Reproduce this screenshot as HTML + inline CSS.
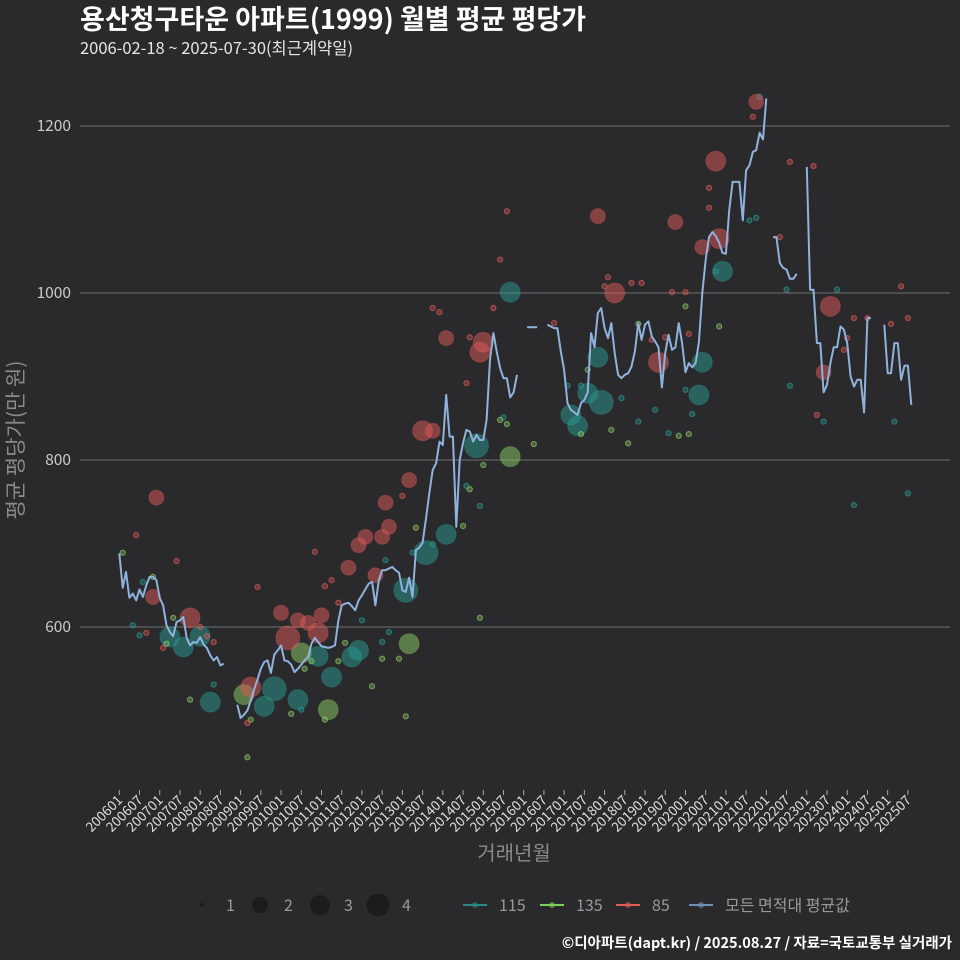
<!DOCTYPE html>
<html><head><meta charset="utf-8">
<style>
html,body{margin:0;padding:0;background:#2a2a2c;}
svg{display:block;font-family:"Noto Sans CJK KR","Liberation Sans",sans-serif;}
</style></head>
<body>
<svg id="chart" width="960" height="960" viewBox="0 0 960 960">
<rect width="960" height="960" fill="#2a2a2c"/>
<text x="80" y="29" fill="#ffffff" font-size="27" font-weight="bold">용산청구타운 아파트(1999) 월별 평균 평당가</text>
<text x="80" y="54" fill="#e6e6e6" font-size="16.5">2006-02-18 ~ 2025-07-30(최근계약일)</text>
<g id="grid"></g>
<g id="yaxis"></g>
<g id="xaxis"></g>
<g id="points"></g>
<g id="line"></g>
<text transform="translate(23,440) rotate(-90)" text-anchor="middle" fill="#8a8a8a" font-size="21">평균 평당가(만 원)</text>
<text x="514" y="860" text-anchor="middle" fill="#8a8a8a" font-size="20">거래년월</text>
<g id="legend"></g>
<text x="952" y="948" text-anchor="end" fill="#ffffff" font-size="14.5" font-weight="bold">©디아파트(dapt.kr) / 2025.08.27 / 자료=국토교통부 실거래가</text>
</svg>
<script>
const yTicks = [600, 800, 1000, 1200];
const segStarts = [0, 35, 121, 127, 194, 204, 227];
const segValues = [
 [688,647,666,635,640,632,645,636,650,660,660,656,635,626,602,594,589,606,608,612,587,578,582,581,588,579,575,566,560,564,554,556],
 [507,491,495,500,512,525,537,550,558,560,545,567,572,578,560,559,555,546,550,555,560,564,580,587,582,577,576,575,576,578,608,626,628,629,625,620,632,638,645,652,654,626,656,668,668,670,672,668,665,644,642,659,636,692,695,701,730,760,788,796,822,818,878,828,828,720,800,820,836,834,822,830,824,824,848,920,952,930,910,898,898,875,881,902],
 [959,959,959,959],
 [962,960,958,958,930,908,868,860,857,854,868,872,881,952,935,976,982,958,946,964,928,902,898,902,904,912,930,964,944,962,966,948,942,935,887,928,950,932,935,964,940,905,916,911,916,941,1000,1040,1067,1073,1068,1060,1048,1047,1100,1133,1133,1133,1087,1147,1153,1169,1171,1192,1184,1233],
 [1067,1067,1036,1030,1028,1017,1017,1023],
 [1151,1004,1004,940,940,881,890,916,935,935,960,956,940,900,888,896,896,857,970,970],
 [962,904,904,940,940,896,913,913,866]
];
const redMonths = [11,5,17,10,21,8,13,28,26,24,41,39,38,48,50,53,56,59,60,65,58,61,63,68,76,71,73,78,80,79,86,84,90,93,93,95,97,104,108,107,103,111,113,115,129,145,144,147,152,155,164,168,160,158,162,169,142,165,177,178,173,175,175,189,188,199,206,196,211,209,207,232,234,229,216,215,218,222];
const redValues = [755,710,679,636,611,593,575,582,589,600,648,528,485,617,587,608,605,593,614,629,690,649,656,671,662,698,708,708,720,749,776,757,835,835,982,977,946,947,941,929,892,982,1040,1098,964,1019,1008,1000,1012,1012,1001,1001,917,944,947,951,1092,1085,1158,1065,1055,1126,1102,1229,1211,1157,1152,1067,984,905,854,1008,970,963,946,932,970,970];
const redCounts = [2,1,1,2,3,1,1,1,1,1,1,3,1,2,4,2,2,3,2,1,1,1,1,2,2,2,2,2,2,2,2,1,3,2,1,1,2,1,3,3,1,1,1,1,1,1,1,3,1,1,1,1,3,1,1,1,2,2,3,3,2,1,1,2,1,1,1,1,3,2,1,1,1,1,1,1,1,1];
const tealMonths = [15,19,24,27,4,6,7,28,46,43,53,54,59,63,69,71,72,80,78,79,85,87,91,97,93,107,103,106,116,114,133,137,134,136,139,143,142,149,154,159,163,168,170,172,173,179,177,187,189,198,213,199,209,230,190,218,234];
const tealValues = [588,576,589,510,602,590,654,531,526,505,513,501,565,540,564,572,608,594,582,680,644,689,689,711,699,745,769,817,1001,851,889,889,854,841,880,869,923,874,846,860,832,884,855,878,917,1026,1026,1087,1090,1004,1004,889,846,846,1235,746,760];
const tealCounts = [3,3,3,3,1,1,1,1,4,3,3,1,3,3,3,3,1,1,1,1,4,1,4,3,1,1,1,4,3,1,1,1,3,3,3,4,3,1,1,1,1,1,1,3,3,3,1,1,1,1,1,1,1,1,1,1,1];
const greenMonths = [1,10,16,14,21,38,37,39,51,54,55,57,62,61,65,67,78,83,75,85,86,88,102,104,108,113,115,116,123,139,137,146,151,154,166,169,168,178,107];
const greenValues = [689,660,611,580,513,444,519,489,496,569,550,559,501,489,559,581,562,562,529,493,580,719,721,765,794,848,843,804,819,908,831,836,820,963,829,831,984,960,611];
const greenCounts = [1,1,1,1,1,1,3,1,1,3,1,1,3,1,1,1,1,1,1,1,3,1,1,1,1,1,1,3,1,1,1,1,1,1,1,1,1,1,1];
const xTickLabels = [];
for (let yr = 2006; yr <= 2025; yr++) { xTickLabels.push(yr + '01'); xTickLabels.push(yr + '07'); }

const NS = 'http://www.w3.org/2000/svg';
const X0 = 119.3, XS = 3.37;
function xScale(m){ return X0 + m * XS; }
function yScale(v){ return 126 + (1200 - v) * 0.835; }
function mk(tag, attrs, parent){ const e = document.createElementNS(NS, tag); for (const k in attrs) e.setAttribute(k, attrs[k]); parent.appendChild(e); return e; }
const rad = [0, 2.6, 7.5, 10, 12];

const grid = document.getElementById('grid');
const yaxis = document.getElementById('yaxis');
yTicks.forEach(t => {
  const l = mk('line', {x1: 80, x2: 950, y1: yScale(t), y2: yScale(t), stroke: '#707070', 'stroke-width': 1}, grid);
  
  
  const tx = mk('text', {x: 71, y: yScale(t) + 5, 'text-anchor': 'end', fill: '#cccccc', 'font-size': 15.5}, yaxis);
  tx.textContent = t;
  
  
});

const xaxis = document.getElementById('xaxis');
xTickLabels.forEach((lab, i) => {
  const x = xScale(i * 6);
  const tk = mk('line', {x1: x, x2: x, y1: 790, y2: 795, stroke: '#aaaaaa', 'stroke-width': 1}, xaxis);
  
  
  const tx = mk('text', {x: x + 4, y: 801, 'text-anchor': 'end', fill: '#dddddd', 'font-size': 13.5, transform: 'rotate(-45 ' + (x + 4) + ' 801)'}, xaxis);
  tx.textContent = lab;
  
  
});

const pts = document.getElementById('points');
function drawSeries(months, values, counts, color, name){
  months.forEach((m, i) => {
    const c = counts[i];
    const p = mk('circle', {cx: xScale(m), cy: yScale(values[i]), r: rad[c], fill: color, 'fill-opacity': c === 1 ? 0.35 : 0.5, stroke: color, 'stroke-opacity': c === 1 ? 0.7 : 0.3, 'stroke-width': 1}, pts);
    
    
  });
}
drawSeries(tealMonths, tealValues, tealCounts, '#2a9a92', 'area-115');
drawSeries(greenMonths, greenValues, greenCounts, '#8ccc66', 'area-135');
drawSeries(redMonths, redValues, redCounts, '#e05a5a', 'area-85');

const lineG = document.getElementById('line');
segStarts.forEach((s, si) => {
  const d = segValues[si].map((v, j) => (j ? 'L' : 'M') + xScale(s + j).toFixed(1) + ',' + yScale(v).toFixed(1)).join(' ');
  const p = mk('path', {d: d, fill: 'none', stroke: '#8fb3dc', 'stroke-width': 2, 'stroke-linejoin': 'round'}, lineG);
  
  
});

const leg = document.getElementById('legend');
const sizeLeg = [[202,1,'1'],[260,2,'2'],[320,3,'3'],[378,4,'4']];
sizeLeg.forEach(s => {
  const c = mk('circle', {cx: s[0], cy: 905, r: [0,2,8,10,11.5][s[1]], fill: '#1c1c1c'}, leg);
  
  
  const t = mk('text', {x: s[0] + 24, y: 911, fill: '#999999', 'font-size': 16}, leg);
  t.textContent = s[2];
  
  
});
const colLeg = [[475,'#2a8a84','115'],[552,'#7fcf5f','135'],[628,'#e05a5a','85'],[701,'#6f8fb8','모든 면적대 평균값']];
colLeg.forEach(s => {
  const l = mk('line', {x1: s[0] - 12, x2: s[0] + 12, y1: 905, y2: 905, stroke: s[1], 'stroke-width': 2}, leg);
  
  
  const c = mk('circle', {cx: s[0], cy: 905, r: 3, fill: s[1], 'fill-opacity': 0.6}, leg);
  
  
  const t = mk('text', {x: s[0] + 24, y: 911, fill: '#999999', 'font-size': 16}, leg);
  t.textContent = s[2];
  
  
});
</script>
</body></html>
